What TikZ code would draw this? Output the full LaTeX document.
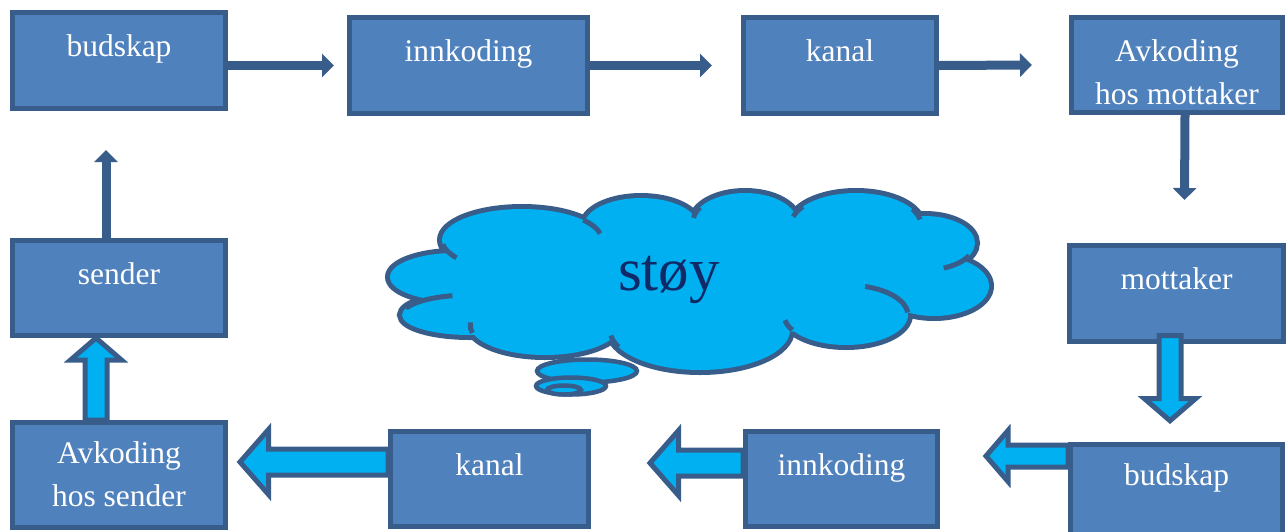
\documentclass[tikz,border=0pt]{standalone}
\usepackage{fontspec}
\setmainfont{Liberation Serif}
\usepackage{tikz}
\usetikzlibrary{arrows.meta,calc,positioning}
\definecolor{boxblue}{RGB}{79,129,189}
\definecolor{edgeblue}{RGB}{56,93,138}
\definecolor{noisecyan}{RGB}{0,176,240}
\definecolor{noisetext}{RGB}{16,42,104}
\tikzset{
  msgbox/.style={
    draw=edgeblue,fill=boxblue,line width=5pt,anchor=north west,
    inner sep=0pt,minimum height=96pt
  },
  msgtext/.style={
    anchor=north,inner sep=0pt,yshift=-24.5pt,text=white,align=center,
    font=\fontsize{31.5}{43}\selectfont
  },
  thinarrow/.style={draw=edgeblue,line width=9pt,-{Triangle[length=12pt,width=23pt]}},
  fatarrow/.style n args={3}{
    draw=edgeblue,fill=noisecyan,line width=5pt,
    to path={
      ($(\tikztostart)!#1!90:(\tikztotarget)$)
      -- ($ ($(\tikztotarget)!#3!(\tikztostart)$) !#1!90:(\tikztotarget) $)
      -- ($ ($(\tikztotarget)!#3!(\tikztostart)$) !#2!90:(\tikztotarget) $)
      -- (\tikztotarget)
      -- ($ ($(\tikztotarget)!#3!(\tikztostart)$) !#2!-90:(\tikztotarget) $)
      -- ($ ($(\tikztotarget)!#3!(\tikztostart)$) !#1!-90:(\tikztotarget) $)
      -- ($(\tikztostart)!#1!-90:(\tikztotarget)$) -- cycle
    }
  },
  smallfat/.style={fatarrow={11pt}{25.5pt}{22pt}},
  largefat/.style={fatarrow={13pt}{32.5pt}{28.5pt}},
  noiselobe/.style={draw=edgeblue,line width=10pt},
  noisehook/.style={draw=edgeblue,line width=5pt},
  bubble/.style={draw=edgeblue,fill=noisecyan,line width=4.5pt}
}
\begin{document}
\begin{tikzpicture}[x=1pt,y=-1pt]
  \useasboundingbox (0,0) rectangle (1288,531);
  % sender side, top row
  \node[msgbox,minimum width=213pt,label={[msgtext]north:budskap}] (bud1) at (10,10) {};
  \node[msgbox,minimum width=238pt,label={[msgtext]north:innkoding}] (innk1) at (347,15) {};
  \node[msgbox,minimum width=193pt,label={[msgtext]north:kanal}] (kanal1) at (741,15) {};
  \node[msgbox,minimum width=211pt,minimum height=95pt,
    label={[msgtext]north:{Avkoding\\hos mottaker}}] (avkm) at (1069,15) {};
  \node[msgbox,minimum width=213pt,minimum height=95pt,label={[msgtext]north:sender}] (sender) at (10,238) {};
  \node[msgbox,minimum width=214pt,label={[msgtext]north:mottaker}] (mottaker) at (1067,243) {};
  % feedback, bottom row
  \node[msgbox,minimum width=213pt,minimum height=105pt,
    label={[msgtext,yshift=3pt]north:{Avkoding\\hos sender}}] (avks) at (10,420) {};
  \node[msgbox,minimum width=198pt,minimum height=95pt,label={[msgtext]north:kanal}] (kanal2) at (388,429) {};
  \node[msgbox,minimum width=192pt,minimum height=95pt,label={[msgtext]north:innkoding}] (innk2) at (743,429) {};
  \node[msgbox,minimum width=212pt,minimum height=100pt,
    label={[msgtext,yshift=3pt]north:budskap}] (bud2) at (1068,442) {};

  \draw[thinarrow] (bud1.east |- innk1.west) -- ([xshift=-13pt]innk1.west);
  \draw[thinarrow] (innk1.east) -- ([xshift=-29pt]kanal1.west);
  \draw[thinarrow] (kanal1.east) -- ([xshift=-37pt]avkm.west);
  \draw[thinarrow] ([xshift=8pt]avkm.south) -- ([xshift=8pt,yshift=43pt]mottaker.north);
  \draw[thinarrow] ([xshift=-13pt]sender.north) -- ([xshift=-13pt,yshift=-39pt]bud1.south);

  \draw[smallfat] ([xshift=-6.5pt,yshift=8.5pt]mottaker.south) to ([xshift=-6.5pt,yshift=21.3pt]bud2.north);
  \draw[smallfat] ([yshift=38.5pt]bud2.west) to ([xshift=46pt,yshift=23pt]innk2.east);
  \draw[largefat] ([yshift=16pt]innk2.west) to ([xshift=59pt,yshift=16pt]kanal2.east);
  \draw[largefat] ([yshift=17pt]kanal2.west) to ([xshift=12pt,yshift=13pt]avks.east);
  \draw[smallfat] ([xshift=-23pt]avks.north) to ([xshift=-23pt]sender.south);

  % noise cloud
  \foreach \cx/\cy/\rx/\ry in {455/277/65/24,470/315/68/20,522/240/80/31,641/226/57/28,
      745/222/52/29,856/225/65/32,925/243/50/27,934/286/55/30,846/315/62/30,
      700/330/90/40,545/325/75/30}
    \draw[noiselobe] (\cx,\cy) ellipse [x radius=\rx,y radius=\ry];
  \foreach \cx/\cy/\rx/\ry in {455/277/65/24,470/315/68/20,522/240/80/31,641/226/57/28,
      745/222/52/29,856/225/65/32,925/243/50/27,934/286/55/30,846/315/62/30,
      700/330/90/40,545/325/75/30,690/282/235/55}
    \fill[noisecyan] (\cx,\cy) ellipse [x radius=\rx,y radius=\ry];
  \foreach \cx/\cy/\rx/\ry/\a/\b in {522/240/80/31/145/172,522/240/80/31/-40/-12,
      745/222/52/29/-150/-172,856/225/65/32/-145/-165,856/225/65/32/-30/-10,
      925/243/50/27/28/68,846/315/62/30/-72/-5,846/315/62/30/150/170,
      700/330/90/40/155/172,545/325/75/30/165/185,470/315/68/20/-160/-105}
    \draw[noisehook] ({\cx+\rx*cos(\a)},{\cy+\ry*sin(\a)})
      arc [start angle=\a,end angle=\b,x radius=\rx,y radius=\ry];
  \draw[bubble] (587,371) ellipse [x radius=50,y radius=11.5];
  \draw[bubble] (571,386) ellipse [x radius=35,y radius=8.5];
  \draw[bubble] (564,390) ellipse [x radius=17,y radius=4.5];
  \node[anchor=base,inner sep=0pt,text=noisetext,font=\fontsize{61}{61}\selectfont] (noise) at (669,290) {støy};
\end{tikzpicture}
\end{document}
